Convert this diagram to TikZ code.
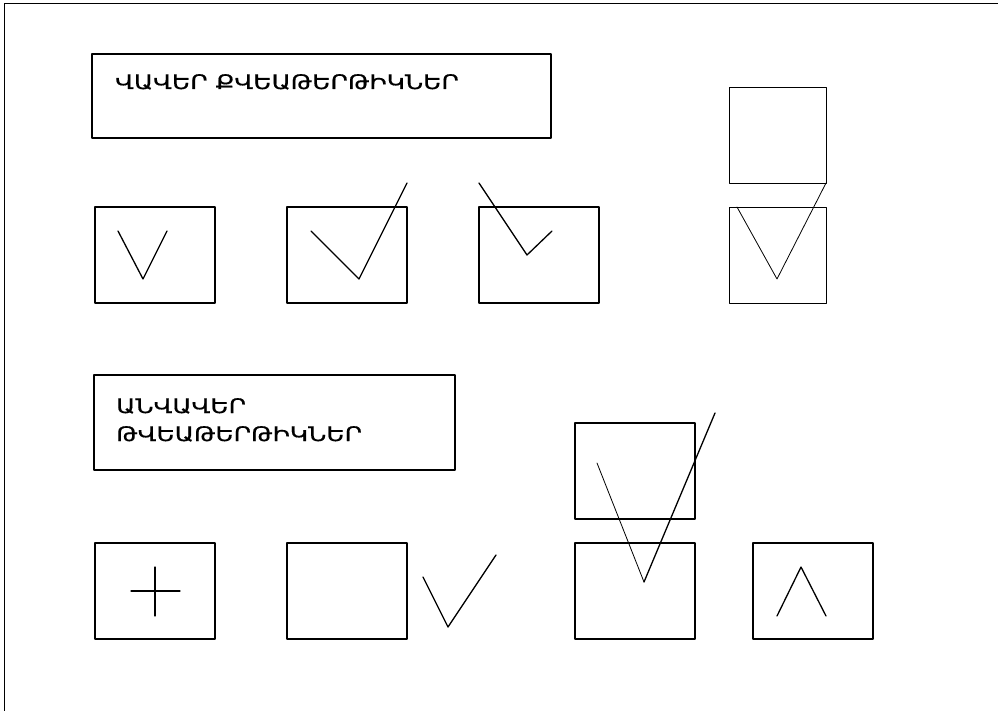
\documentclass[tikz,border=0pt]{standalone}
\usepackage{fontspec}
\newfontfamily\armfont[FakeStretch=1.25, FakeBold=0.6]{DejaVu Sans}
\begin{document}
\begin{tikzpicture}[x=1pt, y=-1pt, line join=round, line cap=round,
	font=\armfont\fontsize{20}{28}\selectfont,
	box/.style={line width=1.3pt},
	fine/.style={line width=.8pt}]
	\def\bw{120} \def\bh{96}
	\useasboundingbox (0,0) rectangle (998,711);
	\draw[line width=1pt] (4,711)--(4,4)--(998,4);
	% titles
	\draw[box] (92,54) rectangle (551,138);
	\node[anchor=base west, inner sep=0pt] (valid) at (115,89) {ՎԱՎԵՐ ՔՎԵԱԹԵՐԹԻԿՆԵՐ};
	\draw[box] (94,375) rectangle (455,470);
	\node[anchor=base west, inner sep=0pt, align=left] (invalid) at (116,441) {ԱՆՎԱՎԵՐ\\ԹՎԵԱԹԵՐԹԻԿՆԵՐ};
	% valid ballots
	\foreach \x in {95,287,479} \draw[box] (\x,207) rectangle ++(\bw,\bh);
	\draw[fine] (729,87) rectangle (826,183);
	\draw[fine] (729,207) rectangle (826,303);
	\draw[box] (118,231)--(143,279)--(167,231);
	\draw[box] (311,231)--(359,279)--(407,183);
	\draw[box] (479,183)--(527,255)--(552,231);
	\draw[fine] (737,207)--(777,279)--(826,183);
	% invalid ballots
	\foreach \x in {95,287,575,753} \draw[box] (\x,543) rectangle ++(\bw,\bh);
	\draw[box] (575,423) rectangle ++(\bw,\bh);
	\draw[box] (131,591)--(180,591) (155,567)--(155,616);
	\draw[box] (423,577)--(448,627)--(496,555);
	\draw[fine] (597,463)--(644,582);
	\draw[box] (644,582)--(715,413);
	\draw[box] (777,616)--(801,567)--(826,616);
\end{tikzpicture}
\end{document}
